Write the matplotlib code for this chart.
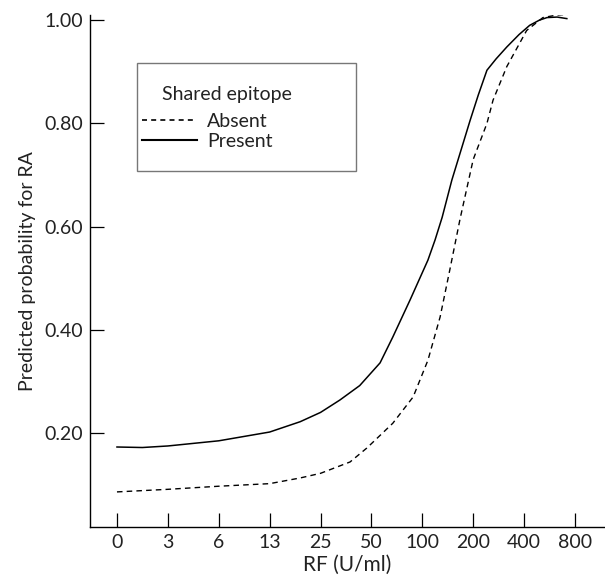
#!/usr/bin/env python3
"""Predicted probability for RA vs RF level, by shared epitope status."""
import matplotlib

matplotlib.use("Agg")

import matplotlib.pyplot as plt
from matplotlib.lines import Line2D
from matplotlib.patches import Rectangle

# x axis: RF categories on an evenly spaced (ordinal) scale
RF_TICKS = ["0", "3", "6", "13", "25", "50", "100", "200", "400", "800"]
Y_TICKS = [0.20, 0.40, 0.60, 0.80, 1.00]

# curve samples, x given as position along the RF tick index
present_x = [0, 0.5, 1, 2, 3, 3.6, 4, 4.38, 4.77, 5.17, 5.42, 5.76, 6.11,
             6.25, 6.39, 6.58, 6.94, 7.1, 7.27, 7.45, 7.66, 7.9, 8.11, 8.3,
             8.45, 8.65, 8.84]
present_y = [0.173, 0.172, 0.175, 0.185, 0.202, 0.222, 0.240, 0.264, 0.292,
             0.336, 0.386, 0.458, 0.535, 0.574, 0.618, 0.69, 0.806, 0.855,
             0.903, 0.925, 0.948, 0.972, 0.99, 1.0, 1.005, 1.006, 1.003]

absent_x = [0, 1, 2, 3, 3.6, 4, 4.58, 4.91, 5.42, 5.82, 6.11, 6.35, 6.54,
            6.74, 7.0, 7.27, 7.39, 7.66, 8.05, 8.37, 8.65, 8.96]
absent_y = [0.086, 0.091, 0.097, 0.102, 0.113, 0.122, 0.144, 0.171, 0.219,
            0.27, 0.341, 0.425, 0.516, 0.614, 0.73, 0.80, 0.845, 0.91, 0.98,
            1.005, 1.01, 1.012]

TEXT = "#222222"
plt.rcParams.update({
    "font.family": ["Lato", "DejaVu Sans"],
    "font.size": 14,
    "text.color": TEXT,
    "axes.labelcolor": TEXT,
    "xtick.color": "black",
    "ytick.color": "black",
    "xtick.labelcolor": TEXT,
    "ytick.labelcolor": TEXT,
})

fig = plt.figure(figsize=(6.05, 5.8), dpi=100)
ax = fig.add_axes([90 / 605, 53 / 580, 515 / 605, 512 / 580])

ax.plot(absent_x, absent_y, color="black", lw=1.0, ls=(0, (4, 3)))
ax.plot(present_x, present_y, color="black", lw=1.1)

ax.set_xlim(-0.53, 9.59)
ax.set_ylim(0.018, 1.01)
ax.set_xticks(range(len(RF_TICKS)))
ax.set_xticklabels(RF_TICKS)
ax.set_yticks(Y_TICKS)
ax.set_yticklabels([f"{v:.2f}" for v in Y_TICKS])
ax.tick_params(direction="in", length=10, width=0.9, pad=5)

for side in ("top", "right"):
    ax.spines[side].set_visible(False)
for side in ("left", "bottom"):
    ax.spines[side].set_linewidth(1.0)

ax.set_xlabel("RF (U/ml)", labelpad=3, fontsize=15)
ax.set_ylabel("Predicted probability for RA", labelpad=6)

# legend: grey box, indented title, short handles
ax.add_patch(Rectangle((0.091, 0.695), 0.425, 0.211, transform=ax.transAxes,
                       facecolor="white", edgecolor="#777777", lw=1.0,
                       zorder=3))
ax.text(0.140, 0.845, "Shared epitope", transform=ax.transAxes,
        ha="left", va="center", zorder=4)
handles = [
    Line2D([], [], color="black", lw=1.2, ls=(0, (3, 2.5))),
    Line2D([], [], color="black", lw=1.5),
]
ax.legend(handles, ["Absent", "Present"], loc="upper left",
          bbox_to_anchor=(0.101, 0.808), frameon=False, borderaxespad=0,
          borderpad=0, handlelength=2.85, handletextpad=0.5,
          labelspacing=0.15)

fig.savefig("out.png", dpi=100, facecolor="white")
